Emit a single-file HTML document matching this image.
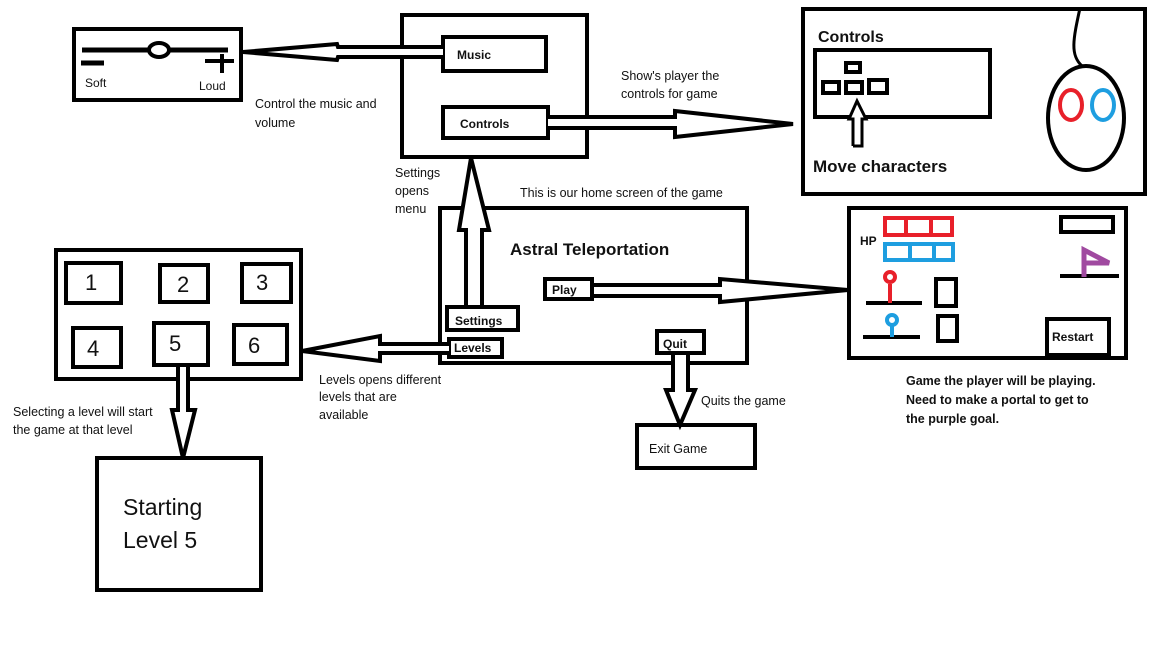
<!DOCTYPE html>
<html><head><meta charset="utf-8"><style>
html,body{margin:0;padding:0;background:#fff;}
svg{display:block;}
text{font-family:"Liberation Sans",sans-serif;fill:#111;}
.b{font-weight:bold;}
</style></head><body>
<svg width="1152" height="648" viewBox="0 0 1152 648" xmlns="http://www.w3.org/2000/svg">
<g fill="none" stroke="#000" stroke-width="4">
<!-- slider box -->
<rect x="74" y="29" width="167" height="71"/>
<line x1="82" y1="50" x2="228" y2="50" stroke-width="5"/>
<ellipse cx="159" cy="50" rx="10" ry="7" fill="#fff"/>
<line x1="81" y1="63" x2="104" y2="63" stroke-width="5"/>
<line x1="205" y1="61" x2="234" y2="61" stroke-width="4"/>
<line x1="222" y1="54" x2="222" y2="73" stroke-width="4"/>
<!-- settings box -->
<rect x="402" y="15" width="185" height="142"/>
<rect x="443" y="37" width="103" height="34"/>
<rect x="443" y="107" width="105" height="31"/>
<!-- music arrow -->
<polyline points="443,47 338,47 337,44 243,52 337,60 338,57 443,57" fill="#fff"/>
<!-- controls arrow -->
<polyline points="548,117 675,117 675,111 793,124 675,137 675,128 548,128" fill="#fff"/>
<!-- controls panel -->
<rect x="803" y="9" width="342" height="185"/>
<rect x="815" y="50" width="175" height="67"/>
<rect x="846" y="63" width="14" height="9"/>
<rect x="823" y="82" width="16" height="11"/>
<rect x="846" y="82" width="16" height="11"/>
<rect x="869" y="80" width="18" height="13"/>
<polyline points="853,146 853,119 849,119 857,101 866,119 862,119 862,146 853,146" stroke-width="3" fill="#fff"/>
<ellipse cx="1086" cy="118" rx="38" ry="52"/>
<path d="M1082,66 C1070,55 1073,40 1080,8" stroke-width="3"/>
<ellipse cx="1071" cy="105" rx="11" ry="15" stroke="#e8202a"/>
<ellipse cx="1103" cy="105" rx="11" ry="15" stroke="#1e9ee0"/>
<!-- home -->
<rect x="440" y="208" width="307" height="155"/>
<!-- settings arrow up -->
<polyline points="466,307 466,230 459,230 471,158 489,230 482,230 482,307" fill="#fff"/>
<rect x="447" y="307" width="71" height="23" fill="#fff"/>
<rect x="449" y="339" width="53" height="18" fill="#fff"/>
<!-- levels arrow -->
<polyline points="449,344 380,344 380,336 302,351 380,361 380,353 449,353" fill="#fff"/>
<!-- play -->
<polyline points="592,285 720,285 720,279 848,290 720,302 720,296 592,296" fill="#fff"/>
<rect x="545" y="279" width="47" height="20" fill="#fff"/>
<!-- quit -->
<polyline points="673,353 673,390 666,390 680,425 695,390 688,390 688,353" fill="#fff"/>
<rect x="657" y="331" width="47" height="22" fill="#fff"/>
<rect x="637" y="425" width="118" height="43"/>
<!-- levels panel -->
<rect x="56" y="250" width="245" height="129"/>
<rect x="66" y="263" width="55" height="40"/>
<rect x="160" y="265" width="48" height="37"/>
<rect x="242" y="264" width="49" height="38"/>
<rect x="73" y="328" width="48" height="39"/>
<rect x="234" y="325" width="53" height="39"/>
<polyline points="178,365 178,410 172,410 183,458 195,410 188,410 188,365" fill="#fff"/>
<rect x="154" y="323" width="54" height="42" fill="#fff"/>
<rect x="97" y="458" width="164" height="132"/>
<!-- game panel -->
<rect x="849" y="208" width="277" height="150"/>
<rect x="885" y="218" width="67" height="17" stroke="#e8202a"/>
<line x1="906" y1="218" x2="906" y2="235" stroke="#e8202a"/>
<line x1="931" y1="218" x2="931" y2="235" stroke="#e8202a"/>
<rect x="885" y="244" width="68" height="16" stroke="#1e9ee0"/>
<line x1="910" y1="244" x2="910" y2="260" stroke="#1e9ee0"/>
<line x1="934" y1="244" x2="934" y2="260" stroke="#1e9ee0"/>
<line x1="866" y1="303" x2="922" y2="303"/>
<line x1="890" y1="284" x2="890" y2="303" stroke="#e8202a"/>
<circle cx="890" cy="277" r="5" stroke="#e8202a"/>
<line x1="863" y1="337" x2="920" y2="337"/>
<line x1="892" y1="326" x2="892" y2="337" stroke="#1e9ee0"/>
<circle cx="892" cy="320" r="5" stroke="#1e9ee0"/>
<rect x="936" y="279" width="20" height="27"/>
<rect x="938" y="316" width="19" height="25"/>
<rect x="1061" y="217" width="52" height="15"/>
<line x1="1060" y1="276" x2="1119" y2="276"/>
<polyline points="1084,277 1084,250 1109,263 1084,263" stroke="#a04aa0" stroke-width="5"/>
<rect x="1047" y="319" width="62" height="36"/>
</g>
<g font-size="12">
<text x="85" y="87">Soft</text>
<text x="199" y="90">Loud</text>
<text x="255" y="108" font-size="12.5">Control the music and</text>
<text x="255" y="127" font-size="12.5">volume</text>
<text x="621" y="80" font-size="12.5">Show's player the</text>
<text x="621" y="98" font-size="12.5">controls for game</text>
<text x="395" y="177" font-size="12.5">Settings</text>
<text x="395" y="195" font-size="12.5">opens</text>
<text x="395" y="213" font-size="12.5">menu</text>
<text x="520" y="197" font-size="12.5">This is our home screen of the game</text>
<text x="319" y="384" font-size="12.5">Levels opens different</text>
<text x="319" y="401" font-size="12.5">levels that are</text>
<text x="319" y="419" font-size="12.5">available</text>
<text x="701" y="405" font-size="12.5">Quits the game</text>
<text x="13" y="416" font-size="12.5">Selecting a level will start</text>
<text x="13" y="434" font-size="12.5">the game at that level</text>
<text x="649" y="453" font-size="12.5">Exit Game</text>
</g>
<g class="b" font-weight="bold" font-size="12">
<text x="457" y="59" font-weight="bold">Music</text>
<text x="460" y="128" font-weight="bold">Controls</text>
<text x="818" y="42" font-size="16" font-weight="bold">Controls</text>
<text x="813" y="172" font-size="17" font-weight="bold">Move characters</text>
<text x="510" y="255" font-size="17" font-weight="bold">Astral Teleportation</text>
<text x="552" y="294" font-weight="bold">Play</text>
<text x="455" y="325" font-weight="bold">Settings</text>
<text x="454" y="352" font-weight="bold">Levels</text>
<text x="663" y="348" font-weight="bold">Quit</text>
<text x="860" y="245" font-weight="bold">HP</text>
<text x="1052" y="341" font-weight="bold">Restart</text>
<text x="906" y="385" font-size="12.5" font-weight="bold">Game the player will be playing.</text>
<text x="906" y="404" font-size="12.5" font-weight="bold">Need to make a portal to get to</text>
<text x="906" y="423" font-size="12.5" font-weight="bold">the purple goal.</text>
</g>
<g font-size="22">
<text x="85" y="290">1</text>
<text x="177" y="292">2</text>
<text x="256" y="290">3</text>
<text x="87" y="356">4</text>
<text x="169" y="351">5</text>
<text x="248" y="353">6</text>
<text x="123" y="515" font-size="23">Starting</text>
<text x="123" y="548" font-size="23">Level 5</text>
</g>
</svg>
</body></html>
